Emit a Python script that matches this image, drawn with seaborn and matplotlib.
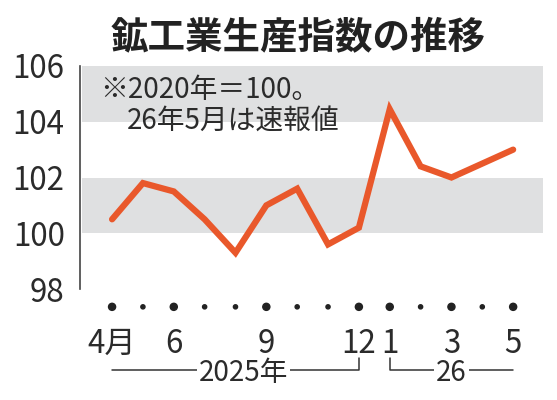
import numpy as np
import matplotlib
matplotlib.use("Agg")
import matplotlib.pyplot as plt
import matplotlib.transforms as mtransforms
import seaborn as sns

# data (2020 = 100)
months = ["4", "5", "6", "7", "8", "9", "10", "11", "12", "1", "2", "3", "4", "5"]
index_values = [100.5, 101.8, 101.5, 100.5, 99.3, 101.0, 101.6, 99.6, 100.2,
                104.45, 102.4, 102.0, 102.5, 103.0]
tick_pos = [0, 2, 5, 8, 9, 11, 13]
tick_labels = ["4月", "6", "9", "12", "1", "3", "5"]
big_dots = [0, 2, 5, 8, 9, 11, 13]
year_groups = [("2025年", 0, 8), ("26", 9, 13)]
y_ticks = [98, 100, 102, 104, 106]
bands = [(100, 102), (104, 106)]

sns.set_style("white")
plt.rcParams["font.family"] = ["Noto Sans CJK JP", "DejaVu Sans"]

line_color = "#E9582B"
band_color = "#DFE0E1"
text_color = "#2b2b2b"

fig = plt.figure(figsize=(5.57, 4.0), dpi=100)
ax = fig.add_axes([0.1436, 0.2775, 0.8314, 0.5575])

x = np.arange(len(index_values))
for lo, hi in bands:
    ax.axhspan(lo, hi, xmin=0.005, xmax=1, color=band_color, lw=0, zorder=0)

sns.lineplot(x=x, y=index_values, ax=ax, color=line_color, linewidth=4.5,
             solid_joinstyle="miter", zorder=3)

ax.set_xlim(-1.04, 13.97)
ax.set_ylim(98, 106)
ax.set_yticks(y_ticks)
ax.set_yticklabels([str(v) for v in y_ticks], fontsize=22.5, color=text_color)
ax.set_xticks(tick_pos)
ax.set_xticklabels(tick_labels, fontsize=22.5, color=text_color)
ax.get_xticklabels()[0].set_x(-0.15)
ax.tick_params(axis="x", length=0, pad=28)
ax.tick_params(axis="y", length=7, width=1.2, color="#444444", pad=4, direction="out")
for s in ["top", "right", "bottom"]:
    ax.spines[s].set_visible(False)
ax.spines["left"].set_color("#444444")
ax.spines["left"].set_linewidth(1.2)
ax.set_xlabel("")
ax.set_ylabel("")

# month dots below the axis
trans = mtransforms.blended_transform_factory(ax.transData, ax.transAxes)
sizes = [26 if i in big_dots else 9 for i in x]
ax.scatter(x, [-0.08] * len(x), s=sizes, color="#222222", transform=trans,
           clip_on=False, zorder=5)

# year brackets
yb = -0.365
for label, a, b in year_groups:
    if a == 0:
        ax.plot([a, b, b], [yb, yb, yb + 0.055], color="#333333", lw=1.1,
                transform=trans, clip_on=False)
    else:
        ax.plot([a, a, b], [yb + 0.055, yb, yb], color="#333333", lw=1.1,
                transform=trans, clip_on=False)
    mid = (a + b) / 2 + (0.25 if a == 0 else 0)
    ax.text(mid, yb - 0.01, label, transform=trans, ha="center", va="center",
            fontsize=20, color=text_color,
            bbox=dict(facecolor="white", edgecolor="none", pad=1.5))

fig.text(0.535, 0.905, "鉱工業生産指数の推移", ha="center", va="center",
         fontsize=27, fontweight="bold", color="#222222")
fig.text(100 / 557, 1 - 90 / 400, "※2020年＝100。", ha="left", va="center",
         fontsize=20, color=text_color)
fig.text(127 / 557, 1 - 122 / 400, "26年5月は速報値", ha="left", va="center",
         fontsize=20, color=text_color)

fig.savefig("out.png", dpi=100)
